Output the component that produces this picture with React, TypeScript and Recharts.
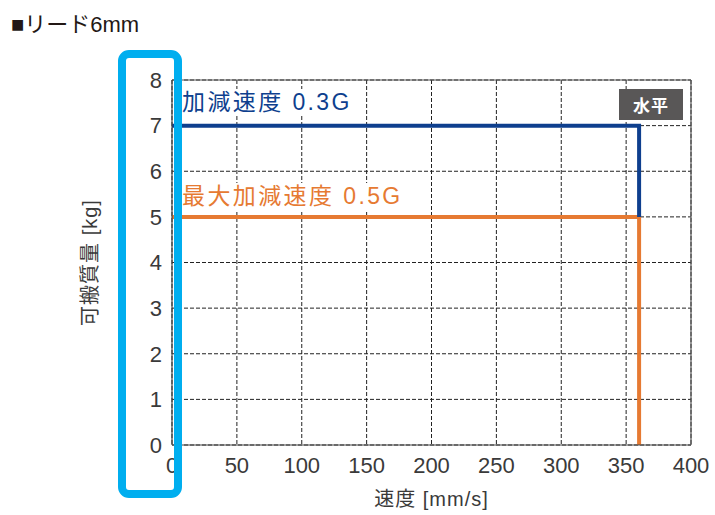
import React from "react";
import {
  LineChart,
  Line,
  XAxis,
  YAxis,
  CartesianGrid,
  ReferenceLine,
  Label,
} from "recharts";

// speed [mm/s] vs payload [kg], lead 6mm, horizontal mount
const accel03 = [
  { speed: 0, payload: 7 },
  { speed: 360, payload: 7 },
  { speed: 360, payload: 5 },
];
const accel05 = [
  { speed: 0, payload: 5 },
  { speed: 360, payload: 5 },
  { speed: 360, payload: 0 },
];
const xTicks = [0, 50, 100, 150, 200, 250, 300, 350, 400];
const yTicks = [0, 1, 2, 3, 4, 5, 6, 7, 8];

const FONT = "'Liberation Sans', 'Noto Sans CJK JP', sans-serif";
const BLUE = "#0e3f8e";
const ORANGE = "#e67a32";
const TEXT = "#3a3a3a";

export default function App() {
  return (
    <div style={{ position: "absolute", left: 0, top: 0, width: 715, height: 515, background: "#fff", fontFamily: FONT }}>
      <style>{"body{margin:0}"}</style>
      <div style={{ position: "absolute", left: 11, top: 6, fontSize: 22, color: "#231815" }}>■リード6mm</div>

      <LineChart
        width={715}
        height={515}
        margin={{ top: 80, right: 24, bottom: 40, left: 112 }}
        style={{ position: "absolute", left: 0, top: 0, fontFamily: FONT }}
      >
        <CartesianGrid stroke="#222" strokeDasharray="4 2" strokeWidth={1} />
        <XAxis
          type="number"
          dataKey="speed"
          domain={[0, 400]}
          ticks={xTicks}
          height={30}
          tickSize={0}
          tickMargin={12}
          axisLine={{ stroke: "#444", strokeWidth: 1.2 }}
          tick={{ fontSize: 22, fill: TEXT }}
        >
          <Label
            value="速度 [mm/s]"
            position="insideBottom"
            offset={-31}
            style={{ fontSize: 20, fill: TEXT, letterSpacing: 1 }}
          />
        </XAxis>
        <YAxis
          type="number"
          dataKey="payload"
          domain={[0, 8]}
          ticks={yTicks}
          width={60}
          tickSize={0}
          tickMargin={10}
          axisLine={{ stroke: "#444", strokeWidth: 1.2 }}
          tick={{ fontSize: 22, fill: TEXT }}
        >
          <Label
            value="可搬質量 [kg]"
            angle={-90}
            position="insideLeft"
            offset={-22}
            style={{ fontSize: 20, fill: TEXT, textAnchor: "middle", letterSpacing: 1 }}
          />
        </YAxis>
        <ReferenceLine y={8} stroke="#555" strokeWidth={1.2} />
        <ReferenceLine x={400} stroke="#555" strokeWidth={1.2} />
        <Line
          data={accel05}
          dataKey="payload"
          type="linear"
          stroke={ORANGE}
          strokeWidth={4}
          dot={false}
          isAnimationActive={false}
        />
        <Line
          data={accel03}
          dataKey="payload"
          type="linear"
          stroke={BLUE}
          strokeWidth={4}
          dot={false}
          isAnimationActive={false}
        />
      </LineChart>

      <div style={{ position: "absolute", left: 182, top: 89, fontSize: 23, letterSpacing: 2.4, color: BLUE, background: "#fff", lineHeight: "27px" }}>
        加減速度 0.3G
      </div>
      <div style={{ position: "absolute", left: 182, top: 183, fontSize: 23, letterSpacing: 2.4, color: ORANGE, background: "#fff", lineHeight: "27px" }}>
        最大加減速度 0.5G
      </div>
      <div
        style={{
          position: "absolute",
          left: 619,
          top: 89,
          width: 64,
          height: 31,
          background: "#595757",
          color: "#fff",
          fontSize: 17,
          fontWeight: "bold",
          letterSpacing: 1,
          display: "flex",
          alignItems: "center",
          justifyContent: "center",
        }}
      >
        水平
      </div>
      <div
        style={{
          position: "absolute",
          left: 118,
          top: 50,
          width: 64,
          height: 448,
          boxSizing: "border-box",
          border: "8px solid #00aeef",
          borderRadius: 11,
        }}
      />
    </div>
  );
}
